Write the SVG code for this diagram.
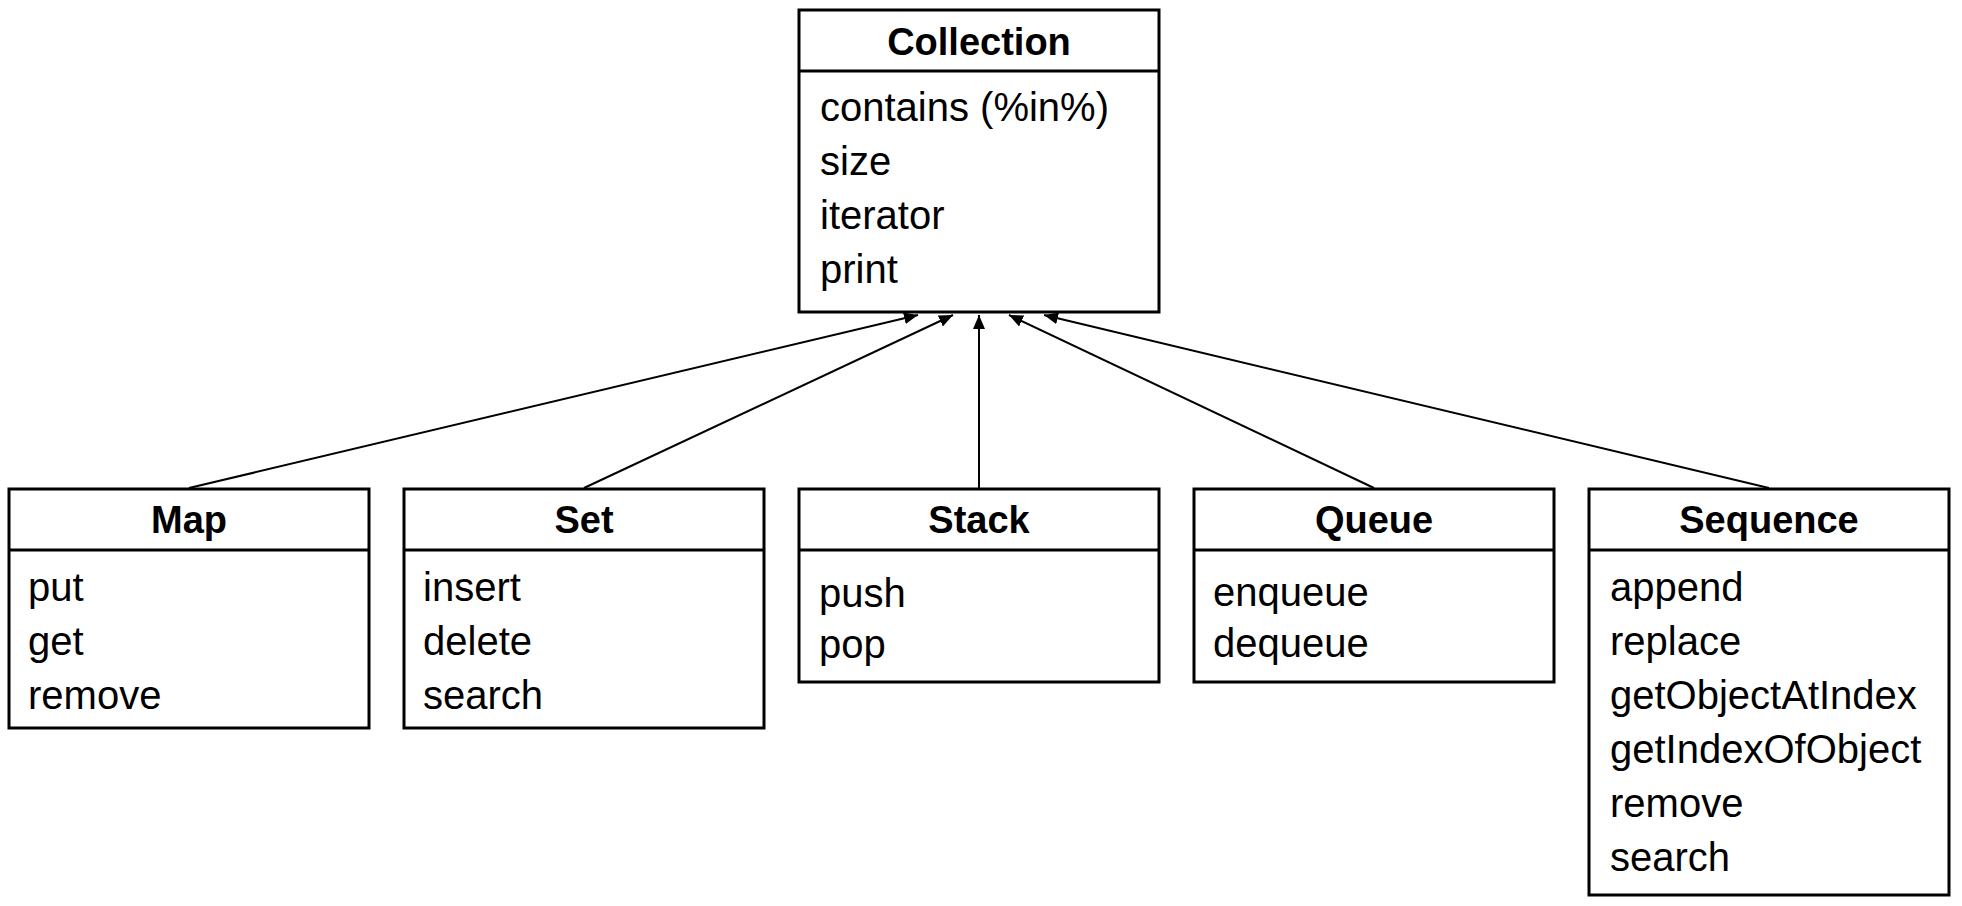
<svg xmlns="http://www.w3.org/2000/svg" width="1962" height="906" viewBox="0 0 1962 906">
<style>
.box{fill:#fff;stroke:#000;stroke-width:3}
.div{stroke:#000;stroke-width:3}
.t{font-family:"Liberation Sans",Arial,sans-serif;font-size:38px;font-weight:bold;text-anchor:middle;fill:#000}
.m{font-family:"Liberation Sans",Arial,sans-serif;font-size:40px;fill:#000}
.c{stroke:#000;stroke-width:2;fill:none;marker-end:url(#arr)}
</style>
<defs>
<marker id="arr" markerUnits="userSpaceOnUse" markerWidth="15" markerHeight="13" refX="14" refY="6" orient="auto">
<path d="M0,0 L14,6 L0,12 z" fill="#000"/>
</marker>
</defs>
<rect width="1962" height="906" fill="#fff"/>
<g id="connectors">
<line class="c" x1="189" y1="488" x2="918" y2="315"/>
<line class="c" x1="584" y1="488" x2="953" y2="315"/>
<line class="c" x1="979" y1="488" x2="979" y2="315"/>
<line class="c" x1="1374" y1="488" x2="1009" y2="315"/>
<line class="c" x1="1769" y1="488" x2="1044" y2="315"/>
</g>
<g id="collection">
<rect class="box" x="799" y="10" width="360" height="302"/>
<line class="div" x1="799" y1="71" x2="1159" y2="71"/>
<text class="t" x="979" y="55">Collection</text>
<text class="m" x="820" y="121">contains (%in%)</text>
<text class="m" x="820" y="175">size</text>
<text class="m" x="820" y="229">iterator</text>
<text class="m" x="820" y="283">print</text>
</g>
<g id="map">
<rect class="box" x="9" y="489" width="360" height="239"/>
<line class="div" x1="9" y1="550" x2="369" y2="550"/>
<text class="t" x="189" y="533">Map</text>
<text class="m" x="28" y="601">put</text>
<text class="m" x="28" y="655">get</text>
<text class="m" x="28" y="709">remove</text>
</g>
<g id="set">
<rect class="box" x="404" y="489" width="360" height="239"/>
<line class="div" x1="404" y1="550" x2="764" y2="550"/>
<text class="t" x="584" y="533">Set</text>
<text class="m" x="423" y="601">insert</text>
<text class="m" x="423" y="655">delete</text>
<text class="m" x="423" y="709">search</text>
</g>
<g id="stack">
<rect class="box" x="799" y="489" width="360" height="193"/>
<line class="div" x1="799" y1="550" x2="1159" y2="550"/>
<text class="t" x="979" y="533">Stack</text>
<text class="m" x="819" y="607">push</text>
<text class="m" x="819" y="658">pop</text>
</g>
<g id="queue">
<rect class="box" x="1194" y="489" width="360" height="193"/>
<line class="div" x1="1194" y1="550" x2="1554" y2="550"/>
<text class="t" x="1374" y="533">Queue</text>
<text class="m" x="1213" y="606">enqueue</text>
<text class="m" x="1213" y="657">dequeue</text>
</g>
<g id="sequence">
<rect class="box" x="1589" y="489" width="360" height="406"/>
<line class="div" x1="1589" y1="550" x2="1949" y2="550"/>
<text class="t" x="1769" y="533">Sequence</text>
<text class="m" x="1610" y="601">append</text>
<text class="m" x="1610" y="655">replace</text>
<text class="m" x="1610" y="709">getObjectAtIndex</text>
<text class="m" x="1610" y="763">getIndexOfObject</text>
<text class="m" x="1610" y="817">remove</text>
<text class="m" x="1610" y="871">search</text>
</g>
</svg>
